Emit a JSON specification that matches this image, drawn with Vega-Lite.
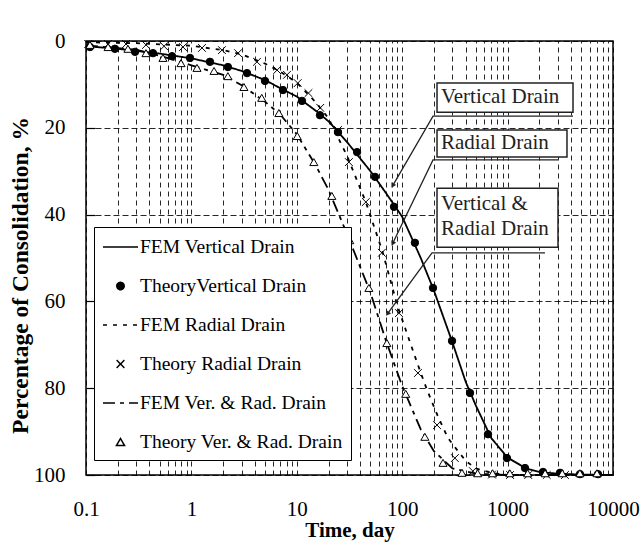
{
  "$schema": "https://vega.github.io/schema/vega-lite/v6.json",
  "width": 527,
  "height": 434,
  "autosize": {"type": "none"},
  "padding": {"left": 86, "top": 41, "right": 29, "bottom": 67},
  "background": "white",
  "config": {
    "font": "Liberation Serif",
    "view": {"stroke": "black", "strokeWidth": 1.5},
    "legend": {
      "orient": "none",
      "legendX": 8,
      "legendY": 186,
      "fillColor": "white",
      "strokeColor": "black",
      "padding": 8,
      "labelFont": "Liberation Serif",
      "labelFontSize": 19.5,
      "labelColor": "black",
      "labelLimit": 0,
      "labelOffset": 1,
      "rowPadding": 17,
      "symbolStrokeColor": "black",
      "symbolStrokeWidth": 1.5
    }
  },
  "datasets": {
    "curves": [
      {"series": "FEM Vertical Drain", "kind": "FEM", "t": 0.1, "u": 1.2},
      {"series": "FEM Vertical Drain", "kind": "FEM", "t": 0.2, "u": 1.8},
      {"series": "FEM Vertical Drain", "kind": "FEM", "t": 0.5, "u": 2.9},
      {"series": "FEM Vertical Drain", "kind": "FEM", "t": 1, "u": 4.0},
      {"series": "FEM Vertical Drain", "kind": "FEM", "t": 2, "u": 5.6},
      {"series": "FEM Vertical Drain", "kind": "FEM", "t": 3, "u": 6.9},
      {"series": "FEM Vertical Drain", "kind": "FEM", "t": 5, "u": 9.0},
      {"series": "FEM Vertical Drain", "kind": "FEM", "t": 7, "u": 10.9},
      {"series": "FEM Vertical Drain", "kind": "FEM", "t": 10, "u": 12.8},
      {"series": "FEM Vertical Drain", "kind": "FEM", "t": 15, "u": 16.0},
      {"series": "FEM Vertical Drain", "kind": "FEM", "t": 20, "u": 18.5},
      {"series": "FEM Vertical Drain", "kind": "FEM", "t": 30, "u": 23.3},
      {"series": "FEM Vertical Drain", "kind": "FEM", "t": 50, "u": 30.0},
      {"series": "FEM Vertical Drain", "kind": "FEM", "t": 70, "u": 35.0},
      {"series": "FEM Vertical Drain", "kind": "FEM", "t": 100, "u": 40.5},
      {"series": "FEM Vertical Drain", "kind": "FEM", "t": 150, "u": 50.0},
      {"series": "FEM Vertical Drain", "kind": "FEM", "t": 200, "u": 57.5},
      {"series": "FEM Vertical Drain", "kind": "FEM", "t": 300, "u": 69.5},
      {"series": "FEM Vertical Drain", "kind": "FEM", "t": 400, "u": 78.5},
      {"series": "FEM Vertical Drain", "kind": "FEM", "t": 500, "u": 84.0},
      {"series": "FEM Vertical Drain", "kind": "FEM", "t": 700, "u": 91.5},
      {"series": "FEM Vertical Drain", "kind": "FEM", "t": 1000, "u": 96.0},
      {"series": "FEM Vertical Drain", "kind": "FEM", "t": 1500, "u": 98.5},
      {"series": "FEM Vertical Drain", "kind": "FEM", "t": 2000, "u": 99.3},
      {"series": "FEM Vertical Drain", "kind": "FEM", "t": 3000, "u": 99.7},
      {"series": "FEM Vertical Drain", "kind": "FEM", "t": 5000, "u": 99.9},
      {"series": "FEM Vertical Drain", "kind": "FEM", "t": 10000, "u": 100},

      {"series": "TheoryVertical Drain", "kind": "Theory", "t": 0.109, "u": 1.4},
      {"series": "TheoryVertical Drain", "kind": "Theory", "t": 0.188, "u": 1.8},
      {"series": "TheoryVertical Drain", "kind": "Theory", "t": 0.292, "u": 2.5},
      {"series": "TheoryVertical Drain", "kind": "Theory", "t": 0.432, "u": 2.8},
      {"series": "TheoryVertical Drain", "kind": "Theory", "t": 0.655, "u": 3.5},
      {"series": "TheoryVertical Drain", "kind": "Theory", "t": 0.97, "u": 3.9},
      {"series": "TheoryVertical Drain", "kind": "Theory", "t": 1.5, "u": 4.8},
      {"series": "TheoryVertical Drain", "kind": "Theory", "t": 2.22, "u": 6.0},
      {"series": "TheoryVertical Drain", "kind": "Theory", "t": 3.37, "u": 7.4},
      {"series": "TheoryVertical Drain", "kind": "Theory", "t": 4.99, "u": 9.2},
      {"series": "TheoryVertical Drain", "kind": "Theory", "t": 7.39, "u": 11.3},
      {"series": "TheoryVertical Drain", "kind": "Theory", "t": 11.2, "u": 13.8},
      {"series": "TheoryVertical Drain", "kind": "Theory", "t": 16.6, "u": 17.1},
      {"series": "TheoryVertical Drain", "kind": "Theory", "t": 24.6, "u": 21.0},
      {"series": "TheoryVertical Drain", "kind": "Theory", "t": 37.3, "u": 25.6},
      {"series": "TheoryVertical Drain", "kind": "Theory", "t": 55.2, "u": 31.3},
      {"series": "TheoryVertical Drain", "kind": "Theory", "t": 83.6, "u": 38.2},
      {"series": "TheoryVertical Drain", "kind": "Theory", "t": 132, "u": 46.5},
      {"series": "TheoryVertical Drain", "kind": "Theory", "t": 196, "u": 56.9},
      {"series": "TheoryVertical Drain", "kind": "Theory", "t": 297, "u": 69.1},
      {"series": "TheoryVertical Drain", "kind": "Theory", "t": 440, "u": 81.1},
      {"series": "TheoryVertical Drain", "kind": "Theory", "t": 652, "u": 90.6},
      {"series": "TheoryVertical Drain", "kind": "Theory", "t": 986, "u": 96.1},
      {"series": "TheoryVertical Drain", "kind": "Theory", "t": 1462, "u": 98.4},
      {"series": "TheoryVertical Drain", "kind": "Theory", "t": 2168, "u": 99.3},
      {"series": "TheoryVertical Drain", "kind": "Theory", "t": 3141, "u": 99.5},
      {"series": "TheoryVertical Drain", "kind": "Theory", "t": 4860, "u": 99.8},
      {"series": "TheoryVertical Drain", "kind": "Theory", "t": 7210, "u": 99.8},

      {"series": "FEM Radial Drain", "kind": "FEM", "t": 0.1, "u": 0.3},
      {"series": "FEM Radial Drain", "kind": "FEM", "t": 0.3, "u": 0.5},
      {"series": "FEM Radial Drain", "kind": "FEM", "t": 1, "u": 1.1},
      {"series": "FEM Radial Drain", "kind": "FEM", "t": 2, "u": 2.1},
      {"series": "FEM Radial Drain", "kind": "FEM", "t": 3, "u": 3.1},
      {"series": "FEM Radial Drain", "kind": "FEM", "t": 5, "u": 5.2},
      {"series": "FEM Radial Drain", "kind": "FEM", "t": 7, "u": 7.1},
      {"series": "FEM Radial Drain", "kind": "FEM", "t": 10, "u": 9.6},
      {"series": "FEM Radial Drain", "kind": "FEM", "t": 15, "u": 14.0},
      {"series": "FEM Radial Drain", "kind": "FEM", "t": 20, "u": 17.8},
      {"series": "FEM Radial Drain", "kind": "FEM", "t": 30, "u": 26.5},
      {"series": "FEM Radial Drain", "kind": "FEM", "t": 45, "u": 37.0},
      {"series": "FEM Radial Drain", "kind": "FEM", "t": 65, "u": 48.5},
      {"series": "FEM Radial Drain", "kind": "FEM", "t": 90, "u": 61.0},
      {"series": "FEM Radial Drain", "kind": "FEM", "t": 114, "u": 68.2},
      {"series": "FEM Radial Drain", "kind": "FEM", "t": 138, "u": 74.0},
      {"series": "FEM Radial Drain", "kind": "FEM", "t": 172, "u": 80.4},
      {"series": "FEM Radial Drain", "kind": "FEM", "t": 219, "u": 86.6},
      {"series": "FEM Radial Drain", "kind": "FEM", "t": 272, "u": 91.5},
      {"series": "FEM Radial Drain", "kind": "FEM", "t": 331, "u": 94.2},
      {"series": "FEM Radial Drain", "kind": "FEM", "t": 403, "u": 96.8},
      {"series": "FEM Radial Drain", "kind": "FEM", "t": 500, "u": 98.5},
      {"series": "FEM Radial Drain", "kind": "FEM", "t": 700, "u": 99.5},
      {"series": "FEM Radial Drain", "kind": "FEM", "t": 1000, "u": 100},
      {"series": "FEM Radial Drain", "kind": "FEM", "t": 10000, "u": 100},

      {"series": "Theory Radial Drain", "kind": "Theory", "t": 0.105, "u": 0.7},
      {"series": "Theory Radial Drain", "kind": "Theory", "t": 0.162, "u": 0.7},
      {"series": "Theory Radial Drain", "kind": "Theory", "t": 0.24, "u": 0.7},
      {"series": "Theory Radial Drain", "kind": "Theory", "t": 0.371, "u": 0.9},
      {"series": "Theory Radial Drain", "kind": "Theory", "t": 0.55, "u": 1.2},
      {"series": "Theory Radial Drain", "kind": "Theory", "t": 0.832, "u": 1.4},
      {"series": "Theory Radial Drain", "kind": "Theory", "t": 1.26, "u": 1.6},
      {"series": "Theory Radial Drain", "kind": "Theory", "t": 1.95, "u": 2.1},
      {"series": "Theory Radial Drain", "kind": "Theory", "t": 2.77, "u": 2.8},
      {"series": "Theory Radial Drain", "kind": "Theory", "t": 4.19, "u": 4.8},
      {"series": "Theory Radial Drain", "kind": "Theory", "t": 6.5, "u": 6.7},
      {"series": "Theory Radial Drain", "kind": "Theory", "t": 8.07, "u": 7.8},
      {"series": "Theory Radial Drain", "kind": "Theory", "t": 10.2, "u": 9.7},
      {"series": "Theory Radial Drain", "kind": "Theory", "t": 12.9, "u": 12.0},
      {"series": "Theory Radial Drain", "kind": "Theory", "t": 16.7, "u": 15.4},
      {"series": "Theory Radial Drain", "kind": "Theory", "t": 24.6, "u": 20.5},
      {"series": "Theory Radial Drain", "kind": "Theory", "t": 31.2, "u": 27.9},
      {"series": "Theory Radial Drain", "kind": "Theory", "t": 45.2, "u": 37.1},
      {"series": "Theory Radial Drain", "kind": "Theory", "t": 64.1, "u": 48.8},
      {"series": "Theory Radial Drain", "kind": "Theory", "t": 93.2, "u": 62.7},
      {"series": "Theory Radial Drain", "kind": "Theory", "t": 141, "u": 76.5},
      {"series": "Theory Radial Drain", "kind": "Theory", "t": 214, "u": 88.5},
      {"series": "Theory Radial Drain", "kind": "Theory", "t": 316, "u": 96.1},
      {"series": "Theory Radial Drain", "kind": "Theory", "t": 468, "u": 99.1},
      {"series": "Theory Radial Drain", "kind": "Theory", "t": 711, "u": 99.9},
      {"series": "Theory Radial Drain", "kind": "Theory", "t": 1055, "u": 100},
      {"series": "Theory Radial Drain", "kind": "Theory", "t": 1569, "u": 100},
      {"series": "Theory Radial Drain", "kind": "Theory", "t": 2351, "u": 100},
      {"series": "Theory Radial Drain", "kind": "Theory", "t": 3500, "u": 100},

      {"series": "FEM Ver. & Rad. Drain", "kind": "FEM", "t": 0.1, "u": 1.0},
      {"series": "FEM Ver. & Rad. Drain", "kind": "FEM", "t": 0.3, "u": 2.0},
      {"series": "FEM Ver. & Rad. Drain", "kind": "FEM", "t": 0.5, "u": 3.4},
      {"series": "FEM Ver. & Rad. Drain", "kind": "FEM", "t": 1, "u": 5.6},
      {"series": "FEM Ver. & Rad. Drain", "kind": "FEM", "t": 2, "u": 7.8},
      {"series": "FEM Ver. & Rad. Drain", "kind": "FEM", "t": 3, "u": 10.2},
      {"series": "FEM Ver. & Rad. Drain", "kind": "FEM", "t": 5, "u": 14.0},
      {"series": "FEM Ver. & Rad. Drain", "kind": "FEM", "t": 7, "u": 17.0},
      {"series": "FEM Ver. & Rad. Drain", "kind": "FEM", "t": 10, "u": 21.5},
      {"series": "FEM Ver. & Rad. Drain", "kind": "FEM", "t": 15, "u": 28.5},
      {"series": "FEM Ver. & Rad. Drain", "kind": "FEM", "t": 20, "u": 34.3},
      {"series": "FEM Ver. & Rad. Drain", "kind": "FEM", "t": 30, "u": 44.5},
      {"series": "FEM Ver. & Rad. Drain", "kind": "FEM", "t": 50, "u": 58.0},
      {"series": "FEM Ver. & Rad. Drain", "kind": "FEM", "t": 70, "u": 69.0},
      {"series": "FEM Ver. & Rad. Drain", "kind": "FEM", "t": 100, "u": 79.5},
      {"series": "FEM Ver. & Rad. Drain", "kind": "FEM", "t": 150, "u": 89.5},
      {"series": "FEM Ver. & Rad. Drain", "kind": "FEM", "t": 200, "u": 94.5},
      {"series": "FEM Ver. & Rad. Drain", "kind": "FEM", "t": 300, "u": 98.5},
      {"series": "FEM Ver. & Rad. Drain", "kind": "FEM", "t": 500, "u": 99.7},
      {"series": "FEM Ver. & Rad. Drain", "kind": "FEM", "t": 1000, "u": 100},
      {"series": "FEM Ver. & Rad. Drain", "kind": "FEM", "t": 10000, "u": 100},

      {"series": "Theory Ver. & Rad. Drain", "kind": "Theory", "t": 0.109, "u": 0.9},
      {"series": "Theory Ver. & Rad. Drain", "kind": "Theory", "t": 0.162, "u": 1.4},
      {"series": "Theory Ver. & Rad. Drain", "kind": "Theory", "t": 0.25, "u": 1.8},
      {"series": "Theory Ver. & Rad. Drain", "kind": "Theory", "t": 0.371, "u": 2.8},
      {"series": "Theory Ver. & Rad. Drain", "kind": "Theory", "t": 0.537, "u": 3.9},
      {"series": "Theory Ver. & Rad. Drain", "kind": "Theory", "t": 0.797, "u": 5.1},
      {"series": "Theory Ver. & Rad. Drain", "kind": "Theory", "t": 1.13, "u": 6.2},
      {"series": "Theory Ver. & Rad. Drain", "kind": "Theory", "t": 1.64, "u": 6.9},
      {"series": "Theory Ver. & Rad. Drain", "kind": "Theory", "t": 2.22, "u": 8.1},
      {"series": "Theory Ver. & Rad. Drain", "kind": "Theory", "t": 3.15, "u": 10.6},
      {"series": "Theory Ver. & Rad. Drain", "kind": "Theory", "t": 4.65, "u": 13.1},
      {"series": "Theory Ver. & Rad. Drain", "kind": "Theory", "t": 6.76, "u": 16.6},
      {"series": "Theory Ver. & Rad. Drain", "kind": "Theory", "t": 10.1, "u": 21.9},
      {"series": "Theory Ver. & Rad. Drain", "kind": "Theory", "t": 14.5, "u": 27.9},
      {"series": "Theory Ver. & Rad. Drain", "kind": "Theory", "t": 21.5, "u": 35.7},
      {"series": "Theory Ver. & Rad. Drain", "kind": "Theory", "t": 31.8, "u": 45.9},
      {"series": "Theory Ver. & Rad. Drain", "kind": "Theory", "t": 48.3, "u": 56.9},
      {"series": "Theory Ver. & Rad. Drain", "kind": "Theory", "t": 71.5, "u": 69.6},
      {"series": "Theory Ver. & Rad. Drain", "kind": "Theory", "t": 108, "u": 81.3},
      {"series": "Theory Ver. & Rad. Drain", "kind": "Theory", "t": 164, "u": 91.2},
      {"series": "Theory Ver. & Rad. Drain", "kind": "Theory", "t": 244, "u": 97.2},
      {"series": "Theory Ver. & Rad. Drain", "kind": "Theory", "t": 369, "u": 99.5},
      {"series": "Theory Ver. & Rad. Drain", "kind": "Theory", "t": 520, "u": 99.6},
      {"series": "Theory Ver. & Rad. Drain", "kind": "Theory", "t": 720, "u": 99.6},
      {"series": "Theory Ver. & Rad. Drain", "kind": "Theory", "t": 1050, "u": 99.6},
      {"series": "Theory Ver. & Rad. Drain", "kind": "Theory", "t": 1550, "u": 99.6},
      {"series": "Theory Ver. & Rad. Drain", "kind": "Theory", "t": 2270, "u": 99.6},
      {"series": "Theory Ver. & Rad. Drain", "kind": "Theory", "t": 3300, "u": 99.6},
      {"series": "Theory Ver. & Rad. Drain", "kind": "Theory", "t": 4850, "u": 99.6},
      {"series": "Theory Ver. & Rad. Drain", "kind": "Theory", "t": 7050, "u": 99.6}
    ],
    "boxes": [
      {"callout": "Vertical Drain", "t1": 214, "t2": 4174, "u1": 9.7, "u2": 16.4},
      {"callout": "Radial Drain", "t1": 214, "t2": 3660, "u1": 20.5, "u2": 26.7},
      {"callout": "Vertical & Radial Drain", "t1": 214, "t2": 3008, "u1": 33.9, "u2": 47.5}
    ],
    "notes": [
      {"text": "Vertical Drain", "t": 233, "u": 13.0},
      {"text": "Radial Drain", "t": 233, "u": 23.6},
      {"text": "Vertical &", "t": 233, "u": 37.6},
      {"text": "Radial Drain", "t": 233, "u": 43.3}
    ],
    "leaders": [
      {"callout": "Vertical Drain", "step": 1, "t": 4174, "u": 17.3},
      {"callout": "Vertical Drain", "step": 2, "t": 196, "u": 17.3},
      {"callout": "Vertical Drain", "step": 3, "t": 81.8, "u": 33.2},
      {"callout": "Radial Drain", "step": 1, "t": 3008, "u": 27.4},
      {"callout": "Radial Drain", "step": 2, "t": 196, "u": 27.4},
      {"callout": "Radial Drain", "step": 3, "t": 81.8, "u": 46.5},
      {"callout": "Vertical & Radial Drain", "step": 1, "t": 2263, "u": 48.8},
      {"callout": "Vertical & Radial Drain", "step": 2, "t": 192, "u": 48.8},
      {"callout": "Vertical & Radial Drain", "step": 3, "t": 73.3, "u": 62.7}
    ]
  },
  "layer": [
    {
      "data": {"name": "curves"},
      "transform": [{"filter": "datum.kind == 'FEM'"}],
      "mark": {"type": "line", "color": "black", "strokeWidth": 1.8},
      "encoding": {
        "x": {
          "field": "t", "type": "quantitative",
          "scale": {"type": "log", "domain": [0.1, 10000], "nice": false},
          "axis": {
            "title": "Time, day",
            "values": [0.1, 0.2, 0.3, 0.4, 0.5, 0.6, 0.7, 0.8, 0.9, 1, 2, 3, 4, 5, 6, 7, 8, 9, 10, 20, 30, 40, 50, 60, 70, 80, 90, 100, 200, 300, 400, 500, 600, 700, 800, 900, 1000, 2000, 3000, 4000, 5000, 6000, 7000, 8000, 9000, 10000],
            "labelExpr": "indexof(['0.1','1','10','100','1000','10000'], format(datum.value, '~g')) >= 0 ? format(datum.value, '~g') : ''",
            "grid": true, "gridColor": "black", "gridDash": [5, 4], "gridWidth": 1, "gridOpacity": 0.85,
            "ticks": false, "domain": false,
            "labelOverlap": false, "labelFlush": false, "labelBound": false,
            "labelFont": "Liberation Serif", "labelFontSize": 21, "labelColor": "black",
            "labelBaseline": "alphabetic", "labelPadding": 40,
            "titleFont": "Liberation Serif", "titleFontSize": 21, "titleFontWeight": "bold", "titleColor": "black",
            "titleBaseline": "alphabetic", "titleY": 61
          }
        },
        "y": {
          "field": "u", "type": "quantitative",
          "scale": {"domain": [0, 100], "reverse": true, "nice": false},
          "axis": {
            "title": "Percentage of Consolidation, %",
            "values": [0, 20, 40, 60, 80, 100],
            "grid": true, "gridColor": "black", "gridDash": [6, 3], "gridWidth": 1, "gridOpacity": 0.85,
            "ticks": true, "tickSize": -9, "tickColor": "black", "tickWidth": 1.2,
            "domain": false,
            "labelFont": "Liberation Serif", "labelFontSize": 21, "labelColor": "black", "labelPadding": 30,
            "titleFont": "Liberation Serif", "titleFontSize": 23.5, "titleFontWeight": "bold", "titleColor": "black",
            "titleAngle": 270, "titleBaseline": "alphabetic", "titleX": -59, "titleY": 234
          }
        },
        "strokeDash": {
          "field": "series", "type": "nominal",
          "scale": {
            "type": "ordinal",
            "domain": ["FEM Vertical Drain", "TheoryVertical Drain", "FEM Radial Drain", "Theory Radial Drain", "FEM Ver. & Rad. Drain", "Theory Ver. & Rad. Drain"],
            "range": [[1, 0], [1, 0], [4, 6], [1, 0], [12, 5, 4, 5], [1, 0]]
          },
          "legend": {"title": null, "encode": {"symbols": {"update": {"stroke": {"value": "black"}, "strokeWidth": {"value": 1.5}, "y": {"value": 12}}}, "labels": {"update": {"y": {"value": 12}}}}}
        }
      }
    },
    {
      "data": {"name": "curves"},
      "transform": [{"filter": "datum.kind == 'Theory'"}],
      "mark": {"type": "point", "filled": true, "stroke": "black", "strokeWidth": 1, "opacity": 1},
      "encoding": {
        "x": {"field": "t", "type": "quantitative"},
        "y": {"field": "u", "type": "quantitative"},
        "shape": {
          "field": "series", "type": "nominal",
          "scale": {
            "type": "ordinal",
            "domain": ["FEM Vertical Drain", "TheoryVertical Drain", "FEM Radial Drain", "Theory Radial Drain", "FEM Ver. & Rad. Drain", "Theory Ver. & Rad. Drain"],
            "range": ["stroke", "circle", "stroke", "M-1,-1L1,1M-1,1L1,-1", "stroke", "triangle-up"]
          },
          "legend": {"title": null, "encode": {"symbols": {"update": {"stroke": {"value": "black"}, "strokeWidth": {"value": 1.5}, "y": {"value": 12}}}, "labels": {"update": {"y": {"value": 12}}}}}
        },
        "fill": {
          "field": "series", "type": "nominal",
          "scale": {
            "type": "ordinal",
            "domain": ["FEM Vertical Drain", "TheoryVertical Drain", "FEM Radial Drain", "Theory Radial Drain", "FEM Ver. & Rad. Drain", "Theory Ver. & Rad. Drain"],
            "range": ["transparent", "black", "transparent", "transparent", "transparent", "white"]
          },
          "legend": {"title": null, "encode": {"symbols": {"update": {"stroke": {"value": "black"}, "strokeWidth": {"value": 1.5}, "y": {"value": 12}}}, "labels": {"update": {"y": {"value": 12}}}}}
        },
        "size": {
          "field": "series", "type": "nominal",
          "scale": {
            "type": "ordinal",
            "domain": ["FEM Vertical Drain", "TheoryVertical Drain", "FEM Radial Drain", "Theory Radial Drain", "FEM Ver. & Rad. Drain", "Theory Ver. & Rad. Drain"],
            "range": [1225, 55, 1225, 60, 1225, 65]
          },
          "legend": {"title": null, "encode": {"symbols": {"update": {"stroke": {"value": "black"}, "strokeWidth": {"value": 1.5}, "y": {"value": 12}}}, "labels": {"update": {"y": {"value": 12}}}}}
        }
      }
    },
    {
      "data": {"name": "boxes"},
      "mark": {"type": "rect", "fill": "white", "stroke": "#222", "strokeWidth": 1.5},
      "encoding": {
        "x": {"field": "t1", "type": "quantitative"},
        "x2": {"field": "t2"},
        "y": {"field": "u1", "type": "quantitative"},
        "y2": {"field": "u2"}
      }
    },
    {
      "data": {"name": "notes"},
      "mark": {"type": "text", "align": "left", "baseline": "middle", "font": "Liberation Serif", "fontSize": 21, "color": "#222"},
      "encoding": {
        "x": {"field": "t", "type": "quantitative"},
        "y": {"field": "u", "type": "quantitative"},
        "text": {"field": "text"}
      }
    },
    {
      "data": {"name": "leaders"},
      "mark": {"type": "line", "color": "#222", "strokeWidth": 1.3},
      "encoding": {
        "x": {"field": "t", "type": "quantitative"},
        "y": {"field": "u", "type": "quantitative"},
        "detail": {"field": "callout"},
        "order": {"field": "step", "type": "quantitative"}
      }
    },
    {
      "data": {"name": "leaders"},
      "transform": [{"filter": "datum.step == 3"}],
      "mark": {"type": "point", "shape": "triangle", "filled": true, "color": "#222", "size": 30, "opacity": 1},
      "encoding": {
        "x": {"field": "t", "type": "quantitative"},
        "y": {"field": "u", "type": "quantitative"},
        "angle": {
          "field": "callout", "type": "nominal",
          "scale": {"type": "ordinal", "domain": ["Vertical Drain", "Radial Drain", "Vertical & Radial Drain"], "range": [210, 206, 216]},
          "legend": null
        }
      }
    }
  ]
}
